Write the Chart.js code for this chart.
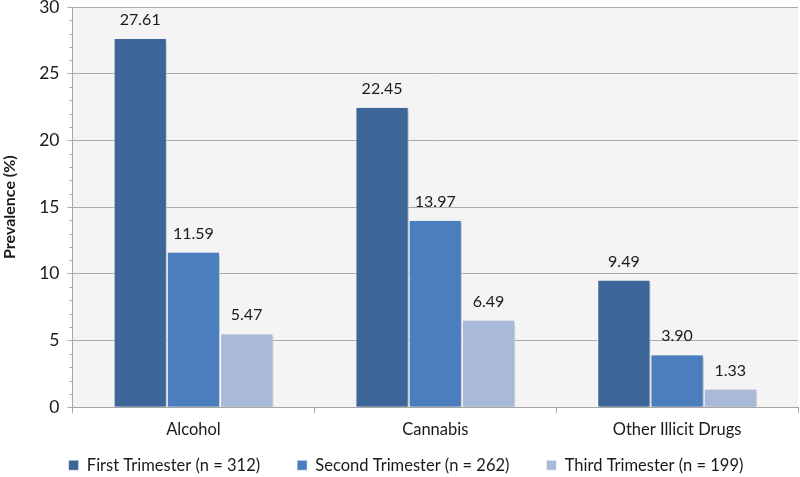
<!DOCTYPE html>
<html>
<head>
<meta charset="utf-8">
<script src="https://cdn.jsdelivr.net/npm/chart.js@4"></script>
<style>
  html, body { margin: 0; padding: 0; background: #fff; }
  #wrap { width: 800px; height: 477px; }
</style>
</head>
<body>
<div id="wrap"><canvas id="chart"></canvas></div>
<script>
const categories = ['Alcohol', 'Cannabis', 'Other Illicit Drugs'];
const seriesNames = ['First Trimester (n = 312)', 'Second Trimester (n = 262)', 'Third Trimester (n = 199)'];
const firstTrimester = [27.61, 22.45, 9.49];
const secondTrimester = [11.59, 13.97, 3.90];
const thirdTrimester = [5.47, 6.49, 1.33];
const seriesColors = ['#3d6698', '#4a7ebf', '#a9bad9'];

const FONT = 'Lato, "Open Sans", sans-serif';

// grey plot background
const plotBg = {
  id: 'plotBg',
  beforeDraw(chart) {
    const { ctx, chartArea: a } = chart;
    ctx.save();
    ctx.fillStyle = '#f4f4f4';
    ctx.fillRect(a.left, a.top, a.right - a.left, a.bottom - a.top);
    ctx.restore();
  }
};

// minor tick marks on the y axis, every 1 unit
const minorTicks = {
  id: 'minorTicks',
  afterDraw(chart) {
    const { ctx } = chart;
    const y = chart.scales.y;
    ctx.save();
    ctx.strokeStyle = '#a6a6a6';
    ctx.lineWidth = 1;
    for (let v = y.min; v <= y.max; v++) {
      if (v % 5 === 0) continue;
      const py = Math.round(y.getPixelForValue(v)) + 0.5;
      ctx.beginPath();
      ctx.moveTo(y.right - 3, py);
      ctx.lineTo(y.right, py);
      ctx.stroke();
    }
    ctx.restore();
  }
};

// soft shadow behind bars
const barShadow = {
  id: 'barShadow',
  beforeDatasetsDraw(chart) {
    const ctx = chart.ctx;
    ctx.save();
    ctx.shadowColor = 'rgba(0,0,0,0.28)';
    ctx.shadowBlur = 3;
    ctx.shadowOffsetX = 2;
    ctx.shadowOffsetY = 1;
  },
  afterDatasetsDraw(chart) {
    chart.ctx.restore();
  }
};

// value labels above bars
const valueLabels = {
  id: 'valueLabels',
  afterDatasetsDraw(chart) {
    const { ctx } = chart;
    ctx.save();
    ctx.font = '16px ' + FONT;
    ctx.fillStyle = '#1a1a1a';
    ctx.textAlign = 'center';
    ctx.textBaseline = 'middle';
    chart.data.datasets.forEach((ds, i) => {
      chart.getDatasetMeta(i).data.forEach((bar, j) => {
        ctx.fillText(ds.data[j].toFixed(2), bar.x, bar.y - 19);
      });
    });
    ctx.restore();
  }
};

// keep the legend compact vertically but with wide gaps between items
const LEGEND_H = 30;
const LEGEND_TOP = 420;
const LEGEND_DX = 7;
const legendTweak = {
  id: 'legendTweak',
  beforeLayout(chart) {
    const lg = chart.legend;
    if (lg && !lg._tweaked) {
      const fit = lg.fit.bind(lg);
      lg.fit = function () { fit(); this.height = LEGEND_H; };
      lg._tweaked = true;
    }
  },
  afterLayout(chart) {
    const lg = chart.legend;
    if (lg) {
      lg.top = LEGEND_TOP;
      lg.bottom = chart.height + 20;
      lg.height = lg.bottom - lg.top;
      lg.left += LEGEND_DX;
      lg.right += LEGEND_DX;
    }
  }
};

const allSeries = [firstTrimester, secondTrimester, thirdTrimester];

new Chart(document.getElementById('chart'), {
  type: 'bar',
  data: {
    labels: categories,
    datasets: allSeries.map((d, i) => ({
      label: seriesNames[i],
      data: d,
      backgroundColor: seriesColors[i],
      borderColor: '#ffffff',
      borderWidth: { left: 1, right: 1, top: 0, bottom: 0 },
      categoryPercentage: 0.66,
      barPercentage: 1.0
    }))
  },
  options: {
    responsive: true,
    maintainAspectRatio: false,
    animation: false,
    layout: { padding: { top: 0, right: 2, left: 0, bottom: 0 } },
    plugins: {
      legend: {
        position: 'bottom',
        labels: {
          font: { family: FONT, size: 16.5 },
          color: '#1a1a1a',
          boxWidth: 10,
          boxHeight: 10,
          padding: 37
        }
      },
      tooltip: { enabled: false }
    },
    scales: {
      x: {
        grid: {
          display: true,
          drawOnChartArea: false,
          drawTicks: true,
          tickLength: 6,
          color: '#a6a6a6',
          offset: true
        },
        border: { color: '#a6a6a6' },
        ticks: {
          font: { family: FONT, size: 16.5 },
          color: '#1a1a1a',
          padding: 7
        }
      },
      y: {
        min: 0,
        max: 30,
        afterFit(scale) { scale.paddingTop = 7; },
        ticks: {
          stepSize: 5,
          font: { family: FONT, size: 17.5 },
          color: '#1a1a1a',
          padding: 8
        },
        grid: {
          color: '#aaaaaa',
          tickLength: 5
        },
        border: { color: '#a6a6a6' },
        title: {
          display: true,
          text: 'Prevalence (%)',
          font: { family: FONT, size: 16, weight: 'bold' },
          color: '#1a1a1a',
          padding: { top: 0, bottom: 12 }
        }
      }
    }
  },
  plugins: [plotBg, barShadow, valueLabels, minorTicks, legendTweak]
});
</script>
</body>
</html>
